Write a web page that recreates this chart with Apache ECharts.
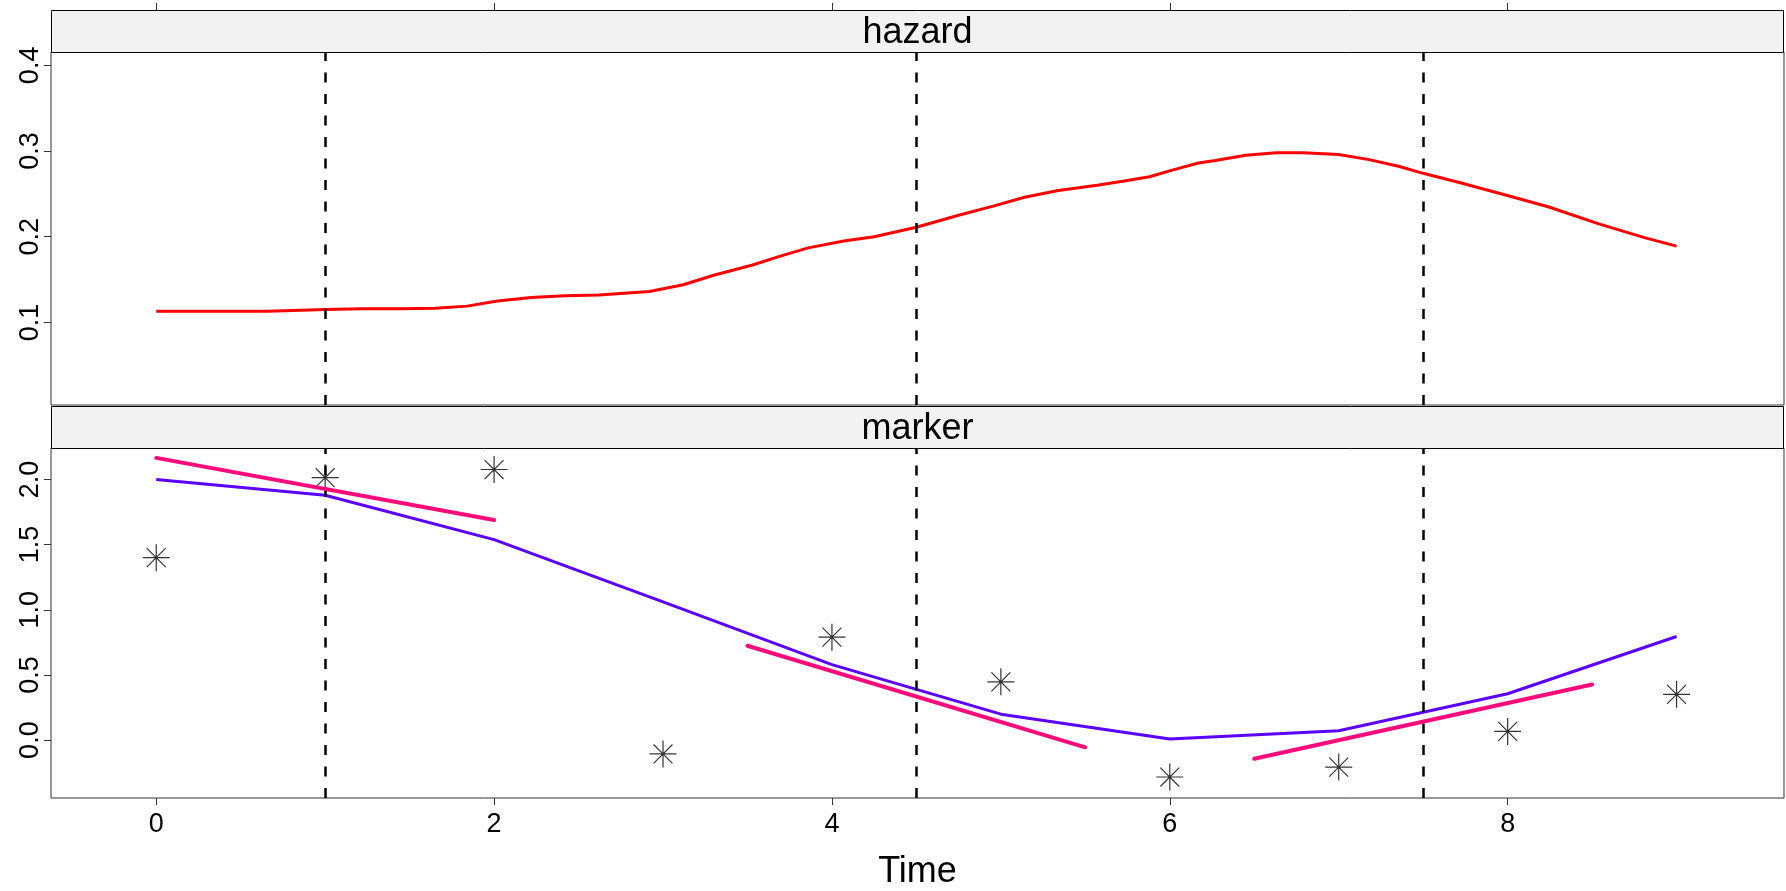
<!DOCTYPE html>
<html>
<head>
<meta charset="utf-8">
<script src="https://cdn.jsdelivr.net/npm/echarts@6/dist/echarts.min.js"></script>
<style>
  html, body { margin: 0; padding: 0; background: #fff; }
  #chart { width: 1786px; height: 891px; }
</style>
</head>
<body>
<div id="chart"></div>
<script>
  // hazard curve
  var hazTime = [0, 0.3, 0.66, 1.0, 1.22, 1.45, 1.65, 1.84, 2.02, 2.22, 2.42, 2.62, 2.92, 3.12, 3.3, 3.53, 3.69, 3.86,
    4.07, 4.25, 4.5, 4.75, 4.96, 5.14, 5.34, 5.57, 5.73, 5.88, 6.02, 6.17, 6.27, 6.45, 6.63, 6.79, 7.0, 7.18, 7.36,
    7.5, 7.72, 8.02, 8.24, 8.54, 8.81, 9.0]
  var hazValue = [0.113, 0.113, 0.113, 0.115, 0.116, 0.116, 0.1165, 0.119, 0.125, 0.129, 0.131, 0.132, 0.136, 0.144,
    0.155, 0.167, 0.177, 0.187, 0.195, 0.200, 0.211, 0.225, 0.236, 0.246, 0.254, 0.260, 0.265, 0.270, 0.278, 0.286,
    0.289, 0.295, 0.298, 0.298, 0.296, 0.290, 0.282, 0.274, 0.263, 0.247, 0.235, 0.215, 0.199, 0.189]

  // marker: observed values and fitted trajectory
  var markTime = [0, 1, 2, 3, 4, 5, 6, 7, 8, 9]
  var markObs = [1.40, 2.013, 2.076, -0.106, 0.79, 0.447, -0.283, -0.207, 0.067, 0.351]
  var markFit = [2.0, 1.878, 1.538, 1.06, 0.579, 0.199, 0.009, 0.072, 0.356, 0.795]

  // local fits (pink segments)
  var segStart = [0, 3.5, 6.5]
  var segEnd = [2, 5.5, 8.5]
  var segStartVal = [2.165, 0.724, -0.143]
  var segEndVal = [1.688, -0.055, 0.427]

  var cutTimes = [1, 4.5, 7.5]
  var xTicks = [0, 2, 4, 6, 8]
  var hazTicks = [0.1, 0.2, 0.3, 0.4]
  var markTicks = [0, 0.5, 1, 1.5, 2]
  var panelNames = ['hazard', 'marker']

  var FONT = 'Liberation Sans'
  var LEFT = 51, RIGHT = 2, W = 1786 - LEFT - RIGHT
  var STRIP_H = 42, PANEL_H = 353
  var top1 = 52, top2 = 448

  function zip(xs, ys) {
    return xs.map(function (x, i) { return [x, ys[i]] })
  }

  var chart = echarts.init(document.getElementById('chart'))

  var dashed = {
    silent: true,
    symbol: ['none', 'none'],
    label: { show: false },
    lineStyle: { color: '#000', width: 2.5, type: [10, 11.5] },
    emphasis: { disabled: true },
    data: cutTimes.map(function (t) { return { xAxis: t } })
  }

  var series = [
    {
      type: 'line', xAxisIndex: 0, yAxisIndex: 0,
      data: zip(hazTime, hazValue),
      showSymbol: false,
      lineStyle: { color: '#ff0000', width: 3 },
      markLine: dashed,
      z: 3
    },
    {
      type: 'line', xAxisIndex: 1, yAxisIndex: 1,
      data: zip(markTime, markFit),
      showSymbol: false,
      lineStyle: { color: '#5b00ff', width: 3 },
      markLine: dashed,
      z: 3
    },
    {
      type: 'scatter', xAxisIndex: 1, yAxisIndex: 1,
      data: zip(markTime, markObs),
      symbol: 'path://M0,-10L0,10M-10,0L10,0M-7,-7L7,7M-7,7L7,-7',
      symbolSize: 27,
      itemStyle: { color: 'none', borderColor: '#000', borderWidth: 1.2 },
      z: 4
    }
  ]
  segStart.forEach(function (s, i) {
    series.push({
      type: 'line', xAxisIndex: 1, yAxisIndex: 1,
      data: [[s, segStartVal[i]], [segEnd[i], segEndVal[i]]],
      showSymbol: false,
      lineStyle: { color: '#ff0a7a', width: 4, cap: 'round' },
      z: 5
    })
  })

  var gridBase = {
    left: LEFT, right: RIGHT, height: PANEL_H,
    show: true, borderColor: '#333', borderWidth: 1, backgroundColor: '#fff'
  }

  function xAxisFor(idx, isTop) {
    return {
      type: 'value', gridIndex: idx,
      min: -0.623, max: 9.636,
      position: isTop ? 'top' : 'bottom',
      offset: isTop ? STRIP_H : 0,
      axisLine: { show: false, onZero: false },
      axisTick: { show: true, length: 7, customValues: xTicks, lineStyle: { color: '#333', width: 1 } },
      axisLabel: {
        show: !isTop, customValues: xTicks, margin: 13,
        fontFamily: FONT, fontSize: 27, color: '#000'
      },
      splitLine: { show: false },
      name: isTop ? '' : 'Time',
      nameLocation: 'middle', nameGap: 56,
      nameTextStyle: { fontFamily: FONT, fontSize: 36, color: '#000' }
    }
  }

  function yAxisFor(idx, min, max, ticks) {
    return {
      type: 'value', gridIndex: idx, min: min, max: max,
      axisLine: { show: false, onZero: false },
      axisTick: { show: true, length: 7, customValues: ticks, lineStyle: { color: '#333', width: 1 } },
      axisLabel: {
        customValues: ticks, rotate: 90, margin: 7,
        fontFamily: FONT, fontSize: 27, color: '#000',
        formatter: function (v) { return v.toFixed(1) }
      },
      splitLine: { show: false }
    }
  }

  var graphic = []
  ;[top1, top2].forEach(function (t, i) {
    var y0 = t - STRIP_H
    graphic.push({
      type: 'rect', z: 10,
      shape: { x: LEFT + 0.5, y: y0 + 0.5, width: W - 1, height: STRIP_H },
      style: { fill: '#f2f2f2', stroke: '#000', lineWidth: 1 }
    })
    graphic.push({
      type: 'text', z: 11,
      x: LEFT + W / 2, y: y0 + STRIP_H / 2 + 2,
      style: {
        text: panelNames[i], fill: '#000',
        font: '36px "' + FONT + '"',
        align: 'center', verticalAlign: 'middle'
      }
    })
  })

  chart.setOption({
    animation: false,
    backgroundColor: '#fff',
    grid: [
      Object.assign({ top: top1 }, gridBase),
      Object.assign({ top: top2 }, gridBase)
    ],
    xAxis: [xAxisFor(0, true), xAxisFor(1, false)],
    yAxis: [
      yAxisFor(0, 0.0036, 0.4156, hazTicks),
      yAxisFor(1, -0.444, 2.241, markTicks)
    ],
    graphic: graphic,
    series: series
  })
</script>
</body>
</html>
